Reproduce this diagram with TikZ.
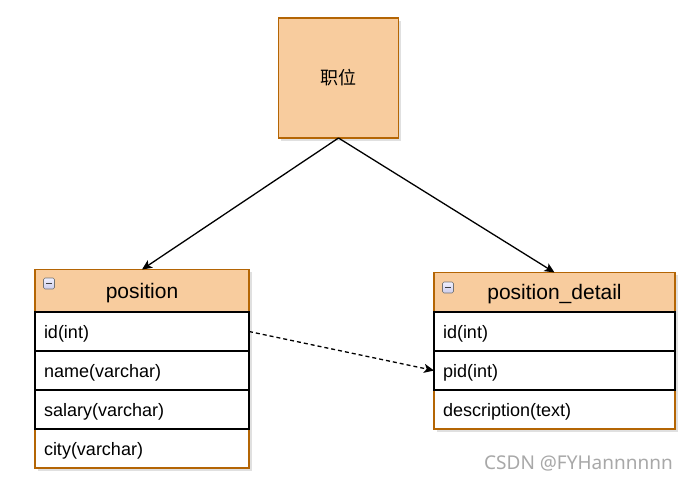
\documentclass[tikz,border=0pt]{standalone}
\usepackage{fontspec}
\setmainfont{Liberation Sans}
\newfontfamily\cjk{Noto Sans CJK SC}
\newfontfamily\wmfont{Noto Sans}
\usetikzlibrary{arrows.meta}
\definecolor{peach}{HTML}{F8CC9E}
\definecolor{orangeline}{HTML}{B46504}
\definecolor{wmgray}{HTML}{A8A8A8}
\tikzset{
  boxbase/.style={rectangle, inner sep=0pt, outer sep=0pt, line width=1.2pt},
  header/.style={boxbase, draw=orangeline, fill=peach, font=\fontsize{21}{24}\selectfont,
    text height=18pt, text depth=3pt},
  field/.style={boxbase, draw=black, fill=white, inner xsep=9pt, align=left,
    minimum height=39pt, font=\fontsize{18}{21}\selectfont, text height=15pt, text depth=2pt},
  lastfield/.style={field, draw=orangeline},
  shadowbox/.style={fill=black, opacity=0.12},
  minusicon/.style={rectangle, rounded corners=1.5pt, draw=black!55, line width=0.6pt,
    top color=black!8!blue!6, bottom color=black!40!blue!20, minimum size=11pt, inner sep=0pt,
    path picture={\draw[line width=1.4pt, black!75] ([xshift=-3pt]path picture bounding box.center) -- ([xshift=3pt]path picture bounding box.center);}},
  conn/.style={line width=1.3pt, -{Stealth[length=10pt,width=9pt,inset=2.5pt]}},
}
\begin{document}
\begin{tikzpicture}[x=1pt,y=-1pt]
\useasboundingbox[fill=white] (0,0) rectangle (688,482);
% top box
\fill[shadowbox] (281,21) rectangle (401,141);
\node[boxbase, draw=orangeline, fill=peach, minimum width=120pt, minimum height=120pt,
  font=\fontsize{18}{21}\selectfont\cjk] (job) at (338.5,78) {职位};
% position table
\fill[shadowbox] (38,272) rectangle (252,471);
\node[header, minimum width=214pt, minimum height=42pt] (pos) at (142,290.5) {position};
\node[lastfield, text width=196pt] (pcity) at (142,448.5) {city(varchar)};
\node[field, text width=196pt] (pid) at (142,331.5) {id(int)};
\node[field, text width=196pt] (pname) at (142,370.5) {name(varchar)};
\node[field, text width=196pt] (psal) at (142,409.5) {salary(varchar)};
\node[minusicon] (pmin) at (49,283.5) {};
% position_detail table
\fill[shadowbox] (437,275) rectangle (678,432);
\node[header, minimum width=241pt, minimum height=39pt] (det) at (554.5,292) {position\_detail};
\node[lastfield, text width=223pt] (ddesc) at (554.5,409.5) {description(text)};
\node[field, text width=223pt] (did) at (554.5,331.5) {id(int)};
\node[field, text width=223pt] (dpid) at (554.5,370.5) {pid(int)};
\node[minusicon] (dmin) at (448,287.5) {};
% connectors
\draw[conn] (job.south) -- (pos.north);
\draw[conn] (job.south) -- (det.north);
\draw[conn, dashed, dash pattern=on 4pt off 3pt] (pid.east) -- (dpid.west);
% watermark
\node[font=\fontsize{19}{22}\selectfont\wmfont, text=wmgray, anchor=west, inner sep=0pt] (wm) at (484,463) {CSDN @FYHannnnnn};
\end{tikzpicture}
\end{document}
